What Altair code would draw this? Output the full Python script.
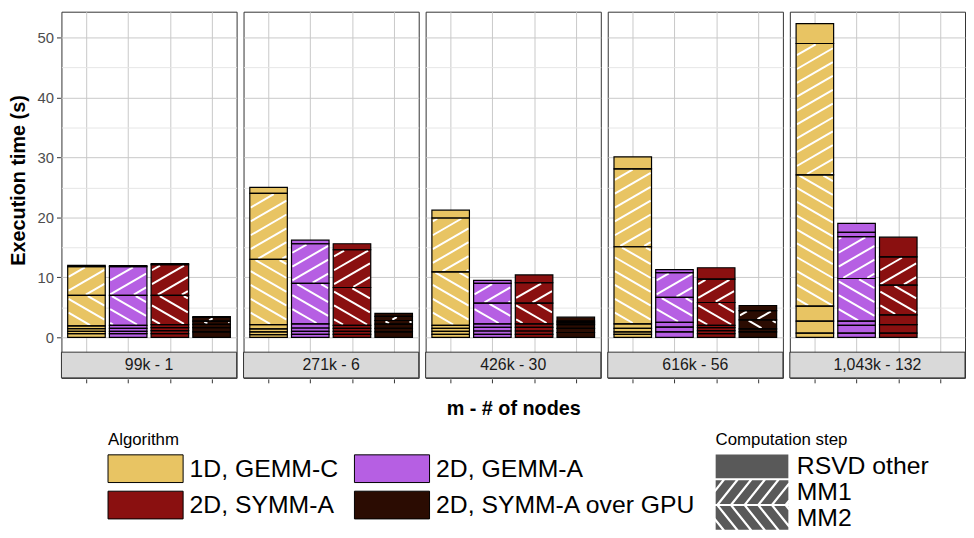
import math
import altair as alt
import pandas as pd

FONT = "Liberation Sans"

# ---------------- data ----------------
panels = ["99k - 1", "271k - 6", "426k - 30", "616k - 56", "1,043k - 132"]
algorithms = ["1D, GEMM-C", "2D, GEMM-A", "2D, SYMM-A", "2D, SYMM-A over GPU"]
algo_colors = ["#E8C463", "#B65FE3", "#8A1010", "#2B0C02"]

# steps stacked from bottom to top, and the computation step each belongs to
step_names = ["other 1", "other 2", "other 3", "other 4", "MM2", "MM1", "other 5", "other 6"]
step_kind = ["RSVD other", "RSVD other", "RSVD other", "RSVD other",
             "MM2", "MM1", "RSVD other", "RSVD other"]
comp_steps = ["RSVD other", "MM1", "MM2"]

# execution time (s) of every step, one row per algorithm
t_99k = [
    [0.6, 0.4, 0.45, 0.45, 5.1, 4.8, 0.2, 0.0],
    [0.6, 0.4, 0.5, 0.5, 5.0, 4.8, 0.15, 0.0],
    [0.6, 0.5, 0.5, 0.5, 4.9, 5.1, 0.2, 0.0],
    [0.9, 0.7, 0.55, 0.0, 0.55, 0.6, 0.15, 0.0],
]
t_271k = [
    [0.45, 0.45, 0.5, 0.7, 10.9, 11.0, 1.0, 0.0],
    [0.5, 0.5, 0.55, 0.7, 6.75, 6.6, 0.6, 0.0],
    [0.5, 0.5, 0.5, 0.5, 6.3, 6.3, 1.0, 0.0],
    [0.9, 0.6, 0.7, 0.0, 0.6, 0.7, 0.5, 0.0],
]
t_426k = [
    [0.5, 0.5, 0.5, 0.5, 8.9, 9.0, 1.3, 0.0],
    [0.5, 0.55, 0.6, 0.6, 3.45, 3.3, 0.5, 0.0],
    [0.5, 0.55, 0.6, 0.6, 3.45, 3.4, 1.3, 0.0],
    [0.8, 0.7, 0.6, 0.0, 0.3, 0.3, 0.65, 0.0],
]
t_616k = [
    [0.5, 0.4, 0.6, 0.75, 12.85, 13.0, 2.0, 0.0],
    [0.9, 0.8, 0.8, 0.0, 4.15, 4.15, 0.5, 0.0],
    [0.6, 0.5, 0.5, 0.4, 3.8, 3.9, 1.9, 0.0],
    [0.9, 0.5, 0.0, 0.0, 1.5, 1.55, 0.85, 0.0],
]
t_1043k = [
    [0.7, 2.0, 2.5, 0.0, 21.9, 21.9, 3.3, 0.0],
    [0.7, 1.3, 0.7, 0.0, 7.1, 7.0, 0.7, 1.5],
    [0.7, 1.4, 1.65, 0.0, 4.95, 4.7, 3.3, 0.0],
    [0.0, 0.0, 0.0, 0.0, 0.0, 0.0, 0.0, 0.0],
]
times = [t_99k, t_271k, t_426k, t_616k, t_1043k]

# ---------------- layout constants ----------------
W, H = 177, 370
XMIN, XMAX = 0.4, 4.6
YMIN, YMAX = -6.77, 54.3
STRIP_TOP = -2.48
BAR_HALF = 0.45
SX = W / (XMAX - XMIN)
SY = H / (YMAX - YMIN)
STRIPE_GAP = 14.0
STRIPE_SLOPE = math.tan(math.radians(30))


def hatch_lines(x0, x1, y0, y1, direction):
    """Diagonal stripes clipped to a segment, returned in data units."""
    X0, X1 = (x0 - XMIN) * SX + 0.8, (x1 - XMIN) * SX - 0.8
    Y0, Y1 = (y0 - YMIN) * SY + 0.8, (y1 - YMIN) * SY - 0.8
    if X1 <= X0 or Y1 <= Y0:
        return []
    m = STRIPE_SLOPE * direction
    cs = [Y0 - m * X0, Y0 - m * X1, Y1 - m * X0, Y1 - m * X1]
    out = []
    for k in range(math.floor(min(cs) / STRIPE_GAP), math.ceil(max(cs) / STRIPE_GAP) + 1):
        c = k * STRIPE_GAP
        xa, xb = (Y0 - c) / m, (Y1 - c) / m
        lo, hi = max(X0, min(xa, xb)), min(X1, max(xa, xb))
        if hi - lo > 1.0:
            out.append((lo / SX + XMIN, (m * lo + c) / SY + YMIN,
                        hi / SX + XMIN, (m * hi + c) / SY + YMIN))
    return out


rows = []
for p, panel in enumerate(panels):
    for a, alg in enumerate(algorithms):
        k = a + 1
        start = 0.0
        for s, dur in enumerate(times[p][a]):
            if dur <= 0:
                continue
            end = start + dur
            rows.append(dict(kind="seg", panel=panel, algorithm=alg, step=step_names[s],
                             cstep=step_kind[s], x=k - BAR_HALF, x2=k + BAR_HALF, y=start, y2=end))
            if step_kind[s] in ("MM1", "MM2"):
                d = 1 if step_kind[s] == "MM1" else -1
                for (hx, hy, hx2, hy2) in hatch_lines(k - BAR_HALF, k + BAR_HALF, start, end, d):
                    rows.append(dict(kind="hatch", panel=panel, x=hx, x2=hx2, y=hy, y2=hy2))
            start = end
    rows.append(dict(kind="strip", panel=panel, label=panel, x=XMIN, x2=XMAX,
                     y=YMIN, y2=STRIP_TOP, xm=(XMIN + XMAX) / 2, ym=(YMIN + STRIP_TOP) / 2))
for c in comp_steps:
    rows.append(dict(kind="legend", panel=panels[0], cstep=c))

df = pd.DataFrame(rows)

# ---------------- legend symbols ----------------
ALG_PATH = "M-2.71,-1H2.71V1H-2.71Z"
HW = 3.083


def clip_rect(poly):
    def clip(pts, inside, inter):
        out = []
        n = len(pts)
        for i in range(n):
            cur, prev = pts[i], pts[i - 1]
            if inside(cur):
                if not inside(prev):
                    out.append(inter(prev, cur))
                out.append(cur)
            elif inside(prev):
                out.append(inter(prev, cur))
        return out

    def ix(xc):
        return lambda p, q: (xc, p[1] + (q[1] - p[1]) * (xc - p[0]) / (q[0] - p[0]))

    def iy(yc):
        return lambda p, q: (p[0] + (q[0] - p[0]) * (yc - p[1]) / (q[1] - p[1]), yc)

    pts = poly
    for inside, inter in [(lambda p: p[0] >= -HW, ix(-HW)), (lambda p: p[0] <= HW, ix(HW)),
                          (lambda p: p[1] >= -1, iy(-1)), (lambda p: p[1] <= 1, iy(1))]:
        if not pts:
            break
        pts = clip(pts, inside, inter)
    return pts


def hatch_symbol(direction):
    """Grey key with white stripes cut out (holes, opposite winding)."""
    parts = [f"M{-HW},-1H{HW}V1H{-HW}Z"]
    dx, gap, hw = 1.6, 1.15, 0.12
    xs = -HW - 2 * dx
    while xs < HW + dx:
        def xat(y):
            t = (1 - y) / 2 if direction > 0 else (y + 1) / 2
            return xs + dx * t
        poly = [(xat(1.5) - hw, 1.5), (xat(-1.5) - hw, -1.5),
                (xat(-1.5) + hw, -1.5), (xat(1.5) + hw, 1.5)]
        poly = clip_rect(poly)
        if len(poly) >= 3:
            area = sum(poly[i][0] * poly[(i + 1) % len(poly)][1] -
                       poly[(i + 1) % len(poly)][0] * poly[i][1] for i in range(len(poly)))
            if area > 0:
                poly = poly[::-1]
            parts.append("M" + "L".join(f"{px:.3f},{py:.3f}" for px, py in poly) + "Z")
        xs += gap
    return "".join(parts)


comp_paths = [f"M{-HW},-1H{HW}V1H{-HW}Z", hatch_symbol(1), hatch_symbol(-1)]

# ---------------- chart ----------------
xs_ = alt.Scale(domain=[XMIN, XMAX], nice=False, zero=False)
ys_ = alt.Scale(domain=[YMIN, YMAX], nice=False, zero=False)
xaxis = alt.Axis(values=[1, 2, 3, 4], labels=False, title=None, domain=False,
                 tickColor="#333333", tickSize=4, grid=True, gridColor="#c8c8c8")
yaxis = alt.Axis(values=list(range(0, 55, 5)), title="Execution time (s)",
                 labelExpr="datum.value % 10 === 0 ? datum.label : ''",
                 gridColor={"condition": {"test": "datum.value % 10 !== 0", "value": "#e6e6e6"},
                            "value": "#c8c8c8"},
                 tickOpacity={"condition": {"test": "datum.value % 10 !== 0", "value": 0},
                              "value": 1},
                 domain=False, tickColor="#333333", tickSize=4,
                 labelFontSize=15, labelColor="#4d4d4d", labelPadding=3,
                 titleFontSize=20, titleFontWeight="bold", titleColor="black", titlePadding=9,
                 titleY=170)

X = alt.X("x:Q", scale=xs_, axis=xaxis)
Y = alt.Y("y:Q", scale=ys_, axis=yaxis)

base = alt.Chart()

fills = base.mark_rect(strokeWidth=0).encode(
    x=X, x2="x2:Q", y=Y, y2="y2:Q",
    fill=alt.Fill("algorithm:N", scale=alt.Scale(domain=algorithms, range=algo_colors),
                  legend=alt.Legend(title="Algorithm", orient="none", legendX=47, legendY=425,
                                    columns=2, direction="horizontal",
                                    symbolType=ALG_PATH, symbolSize=784,
                                    symbolStrokeColor="black", symbolStrokeWidth=1,
                                    symbolOffset=23.5, labelOffset=30, labelFontSize=25,
                                    labelColor="black", labelLimit=400, titleFontSize=17,
                                    titleFontWeight="normal", titleColor="black",
                                    rowPadding=4, columnPadding=14)),
).transform_filter(alt.datum.kind == "seg")

hatches = base.mark_rule(color="white", strokeWidth=2).encode(
    x=X, x2="x2:Q", y=Y, y2="y2:Q"
).transform_filter(alt.datum.kind == "hatch")

borders = base.mark_rect(fillOpacity=0, stroke="black", strokeWidth=1.2).encode(
    x=X, x2="x2:Q", y=Y, y2="y2:Q"
).transform_filter(alt.datum.kind == "seg")

dummy = base.mark_point(filled=True, size=576, color="#595959", strokeWidth=0, opacity=1).encode(
    x=alt.value(W / 2), y=alt.value(H - 13),
    shape=alt.Shape("cstep:N", scale=alt.Scale(domain=comp_steps, range=comp_paths),
                    legend=alt.Legend(title="Computation step", orient="none", legendX=661,
                                      legendY=425, symbolSize=576, symbolFillColor="#595959",
                                      symbolStrokeWidth=0, clipHeight=25,
                                      symbolOffset=24, labelOffset=33, labelFontSize=25,
                                      labelColor="black", labelLimit=400, titleFontSize=17,
                                      titleFontWeight="normal", titleColor="black",
                                      rowPadding=0, symbolOpacity=1)),
).transform_filter(alt.datum.kind == "legend")

strip = base.mark_rect(fill="#d9d9d9", stroke="#333333", strokeWidth=1).encode(
    x=X, x2="x2:Q", y=Y, y2="y2:Q"
).transform_filter(alt.datum.kind == "strip")

strip_text = base.mark_text(fontSize=16, color="#1a1a1a", font=FONT).encode(
    x=alt.X("xm:Q", scale=xs_, axis=xaxis), y=alt.Y("ym:Q", scale=ys_, axis=yaxis),
    text="label:N"
).transform_filter(alt.datum.kind == "strip")

layered = alt.layer(fills, hatches, borders, dummy, strip, strip_text, data=df).properties(
    width=W, height=H)

chart = layered.facet(
    column=alt.Column("panel:N", sort=panels,
                      header=alt.Header(title="m - # of nodes", titleOrient="bottom",
                                        labels=False, titleFontSize=20, titleFontWeight="bold",
                                        titleColor="black", titleFont=FONT, titlePadding=6)),
    spacing=5,
).properties(padding=0).configure(font=FONT).configure_view(
    stroke="#333333", strokeWidth=1
)

chart.save("out.html", embed_options={"renderer": "svg", "actions": False})
